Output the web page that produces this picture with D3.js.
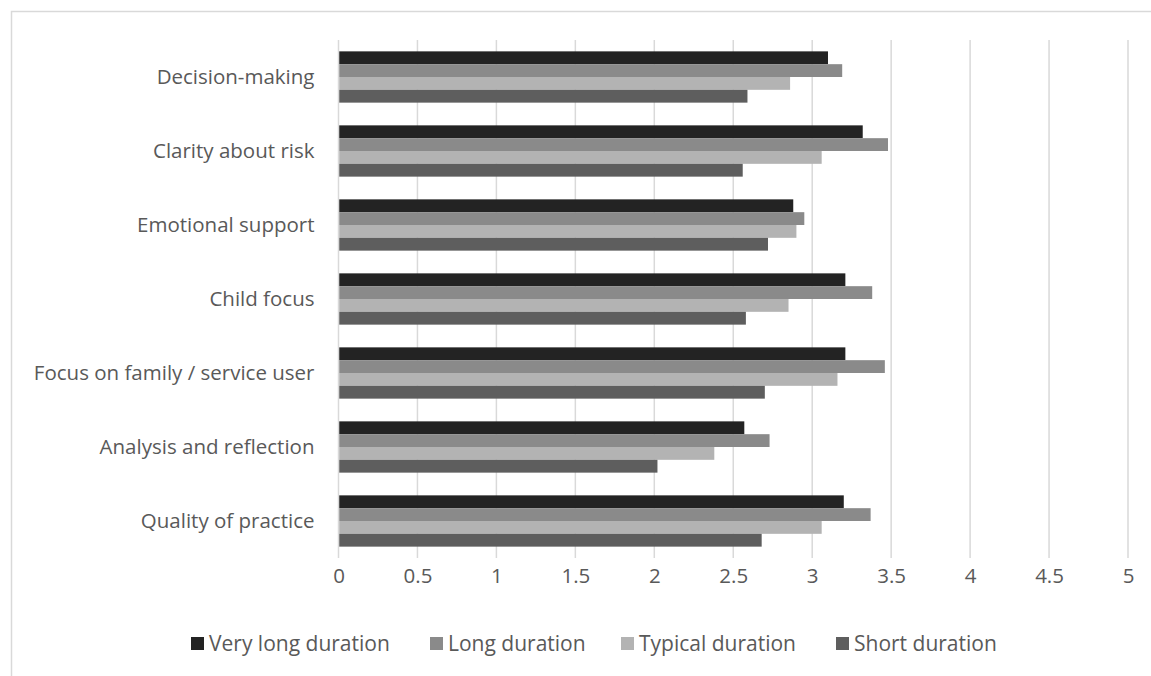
<!DOCTYPE html>
<html>
<head>
<meta charset="utf-8">
<script src="https://cdn.jsdelivr.net/npm/d3@7"></script>
<style>
  html, body { margin: 0; padding: 0; background: #fff; }
  svg { display: block; }
  text { font-family: "Open Sans", "Noto Sans", sans-serif; fill: #595959; }
</style>
</head>
<body>
<svg id="chart" width="1151" height="676"></svg>
<script>
// Practice dimensions, listed top to bottom
const categories = [
  "Decision-making",
  "Clarity about risk",
  "Emotional support",
  "Child focus",
  "Focus on family / service user",
  "Analysis and reflection",
  "Quality of practice"
];

const seriesNames = ["Very long duration", "Long duration", "Typical duration", "Short duration"];
const seriesColors = ["#232323", "#8a8a8a", "#b3b3b3", "#5e5e5e"];

// Mean scores per duration group, in category order
const veryLong = [3.10, 3.32, 2.88, 3.21, 3.21, 2.57, 3.20];
const longDur  = [3.19, 3.48, 2.95, 3.38, 3.46, 2.73, 3.37];
const typical  = [2.86, 3.06, 2.90, 2.85, 3.16, 2.38, 3.06];
const shortDur = [2.59, 2.56, 2.72, 2.58, 2.70, 2.02, 2.68];

const xTicks = [0, 0.5, 1, 1.5, 2, 2.5, 3, 3.5, 4, 4.5, 5];

const seriesValues = [veryLong, longDur, typical, shortDur];

const FONT_SIZE = 20.5;

const svg = d3.select("#chart");

// Outer chart frame (continues past the right and bottom edges)
svg.append("rect")
  .attr("x", 11.5).attr("y", 11.5)
  .attr("width", 1200).attr("height", 700)
  .attr("fill", "none")
  .attr("stroke", "#d9d9d9")
  .attr("stroke-width", 1.5);

const plot = { left: 338.5, right: 1128, top: 40, bottom: 558 };

const x = d3.scaleLinear().domain([0, 5]).range([plot.left, plot.right]);

const y = d3.scaleBand()
  .domain(categories)
  .range([plot.top, plot.bottom])
  .paddingInner(0.307)
  .paddingOuter(0.1535);

const ySub = d3.scaleBand()
  .domain(d3.range(seriesNames.length))
  .range([0, y.bandwidth()]);

// Vertical gridlines
svg.append("g")
  .selectAll("line")
  .data(xTicks)
  .join("line")
  .attr("x1", d => x(d)).attr("x2", d => x(d))
  .attr("y1", plot.top).attr("y2", plot.bottom)
  .attr("stroke", "#d9d9d9")
  .attr("stroke-width", 1.5);

// Bars
const rows = categories.map((c, i) => ({ c, vals: seriesValues.map(s => s[i]) }));

svg.append("g")
  .selectAll("g")
  .data(rows)
  .join("g")
  .attr("transform", d => `translate(0,${y(d.c)})`)
  .selectAll("rect")
  .data(d => d.vals.map((v, k) => ({ v, k })))
  .join("rect")
  .attr("x", x(0) + 0.75)
  .attr("y", d => ySub(d.k))
  .attr("width", d => x(d.v) - x(0) - 0.75)
  .attr("height", ySub.bandwidth())
  .attr("fill", d => seriesColors[d.k]);

// Value axis labels
const xAxisG = svg.append("g")
  .attr("transform", `translate(0,${plot.bottom})`)
  .call(d3.axisBottom(x).tickValues(xTicks).tickSize(0).tickPadding(10)
    .tickFormat(d => String(d)));
xAxisG.select(".domain").remove();
xAxisG.selectAll("text")
  .attr("font-size", FONT_SIZE)
  .style("font-family", "'Open Sans', sans-serif")
  .attr("fill", "#595959");

// Category labels
const yAxisG = svg.append("g")
  .attr("transform", `translate(${plot.left},0)`)
  .call(d3.axisLeft(y).tickSize(0).tickPadding(24));
yAxisG.select(".domain").remove();
yAxisG.selectAll("text")
  .attr("font-size", FONT_SIZE)
  .style("font-family", "'Open Sans', sans-serif")
  .attr("fill", "#595959");

// Legend
const legendX = [191, 430, 621, 836];
const legend = svg.append("g")
  .selectAll("g")
  .data(seriesNames)
  .join("g")
  .attr("transform", (d, i) => `translate(${legendX[i]},644)`);

legend.append("rect")
  .attr("x", 0).attr("y", -7)
  .attr("width", 13).attr("height", 13)
  .attr("fill", (d, i) => seriesColors[i]);

legend.append("text")
  .attr("x", 18).attr("y", 0)
  .attr("dy", "0.35em")
  .attr("font-size", 21)
  .text(d => d);
</script>
</body>
</html>
